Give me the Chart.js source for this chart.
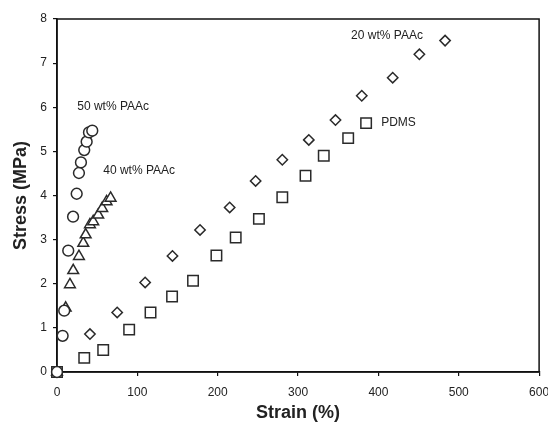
<!DOCTYPE html>
<html>
<head>
<meta charset="utf-8">
<script src="https://cdn.jsdelivr.net/npm/chart.js@4/dist/chart.umd.min.js"></script>
<style>
  html, body { margin: 0; padding: 0; background: #fff; }
  #wrap { width: 548px; height: 430px; position: relative; }
</style>
</head>
<body>
<div id="wrap"><canvas id="c" width="548" height="430"></canvas></div>
<script>
// ---- data ----
const paac50Strain = [0, 7, 9, 14, 20, 24.5, 27.3, 29.8, 33.9, 36.9, 39.8, 43.9];
const paac50Stress = [0, 0.82, 1.39, 2.75, 3.52, 4.04, 4.51, 4.75, 5.03, 5.22, 5.43, 5.47];

const paac40Strain = [0, 10.8, 16.1, 20.2, 27.3, 32.7, 35.7, 41, 45.1, 51.3, 56.3, 61.7, 66.7];
const paac40Stress = [0, 1.45, 1.98, 2.3, 2.62, 2.92, 3.11, 3.34, 3.41, 3.56, 3.71, 3.86, 3.94];

const paac20Strain = [0, 41, 74.9, 109.7, 143.7, 178, 214.9, 247.2, 280.4, 313.4, 346.6, 379.3, 417.8, 451, 483];
const paac20Stress = [0, 0.86, 1.35, 2.03, 2.63, 3.22, 3.73, 4.33, 4.81, 5.26, 5.71, 6.26, 6.67, 7.2, 7.51];

const pdmsStrain = [0, 33.9, 57.5, 89.8, 116.4, 143.2, 169.3, 198.4, 222.4, 251.3, 280.4, 309.3, 332, 362.4, 384.7];
const pdmsStress = [0, 0.32, 0.5, 0.96, 1.35, 1.71, 2.07, 2.64, 3.05, 3.47, 3.96, 4.45, 4.9, 5.3, 5.64];

const seriesNames = ['50 wt% PAAc', '40 wt% PAAc', '20 wt% PAAc', 'PDMS'];
const xTicks = [0, 100, 200, 300, 400, 500, 600];
const yTicks = [0, 1, 2, 3, 4, 5, 6, 7, 8];
const xTitle = 'Strain (%)';
const yTitle = 'Stress (MPa)';

// annotation anchors (data coordinates: strain, stress)
const labelStrain = [25.2, 57.5, 366, 403.4];
const labelStress = [6.01, 4.56, 7.62, 5.65];

// ---- build ----
function pts(xs, ys) { return xs.map((x, i) => ({ x: x, y: ys[i] })); }

const markerColor = '#2a2a2a';
const FONT = '"Liberation Sans", Arial, sans-serif';

const datasets = [
  { label: seriesNames[0], data: pts(paac50Strain, paac50Stress), pointStyle: 'circle', pointRadius: 5.4 },
  { label: seriesNames[1], data: pts(paac40Strain, paac40Stress), pointStyle: 'triangle', pointRadius: 6.2 },
  { label: seriesNames[2], data: pts(paac20Strain, paac20Stress), pointStyle: 'rectRot', pointRadius: 5.2 },
  { label: seriesNames[3], data: pts(pdmsStrain, pdmsStress), pointStyle: 'rect', pointRadius: 7.4 }
].map(d => Object.assign(d, {
  showLine: false,
  borderColor: markerColor,
  backgroundColor: '#ffffff',
  pointBorderWidth: 1.5,
  pointBackgroundColor: '#ffffff',
  pointBorderColor: markerColor,
  pointHoverRadius: d.pointRadius,
  clip: false
}));

const framePlugin = {
  id: 'frame',
  beforeDatasetsDraw(chart) {
    const { ctx, chartArea: a } = chart;
    ctx.save();
    ctx.strokeStyle = '#111';
    ctx.lineWidth = 1.5;
    ctx.strokeRect(a.left, a.top, a.right - a.left, a.bottom - a.top);
    ctx.restore();
  }
};

const labelPlugin = {
  id: 'seriesLabels',
  afterDatasetsDraw(chart) {
    const { ctx, scales } = chart;
    ctx.save();
    ctx.font = '12px ' + FONT;
    ctx.fillStyle = '#222';
    ctx.textAlign = 'left';
    ctx.textBaseline = 'middle';
    seriesNames.forEach((t, i) => {
      ctx.fillText(t, scales.x.getPixelForValue(labelStrain[i]), scales.y.getPixelForValue(labelStress[i]));
    });
    ctx.restore();
  }
};

new Chart(document.getElementById('c'), {
  type: 'scatter',
  data: { datasets },
  options: {
    responsive: false,
    animation: false,
    devicePixelRatio: 1,
    layout: { padding: { top: 19, right: 8, left: 0, bottom: 0 } },
    plugins: { legend: { display: false }, tooltip: { enabled: false } },
    scales: {
      x: {
        type: 'linear',
        min: xTicks[0], max: xTicks[xTicks.length - 1],
        afterBuildTicks(s) { s.ticks = xTicks.map(v => ({ value: v })); },
        afterFit(s) { s.height = 58; s.paddingLeft = 0; s.paddingRight = 0; },
        grid: { display: true, drawOnChartArea: false, drawTicks: true, tickLength: 4, color: '#111', lineWidth: 1.2 },
        border: { display: true, color: '#111', width: 1.5 },
        ticks: { color: '#222', padding: 9, font: { family: FONT, size: 12 }, maxRotation: 0 },
        title: { display: true, text: xTitle, color: '#222', font: { family: FONT, size: 18, weight: 'bold' }, padding: { top: 0, bottom: 6 } }
      },
      y: {
        type: 'linear',
        min: yTicks[0], max: yTicks[yTicks.length - 1],
        afterBuildTicks(s) { s.ticks = yTicks.map(v => ({ value: v })); },
        afterFit(s) { s.width = 57; s.paddingTop = 0; s.paddingBottom = 0; },
        grid: { display: true, drawOnChartArea: false, drawTicks: true, tickLength: 4, color: '#111', lineWidth: 1.2 },
        border: { display: true, color: '#111', width: 1.5 },
        ticks: { color: '#222', padding: 6, font: { family: FONT, size: 12 } },
        title: { display: true, text: yTitle, color: '#222', font: { family: FONT, size: 18, weight: 'bold' }, padding: { top: 10, bottom: 0 } }
      }
    }
  },
  plugins: [framePlugin, labelPlugin]
});
</script>
</body>
</html>
